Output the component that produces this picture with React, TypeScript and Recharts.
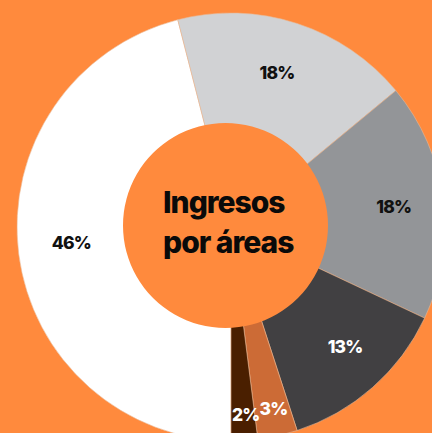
import React from "react";
import { PieChart, Pie, Cell } from "recharts";

const areas = ["A", "B", "C", "D", "E", "F"];
const shares = [46, 18, 18, 13, 3, 2];
const sliceColors = ["#FFFFFF", "#D1D2D4", "#939598", "#414042", "#CC6B36", "#4A1F00"];
const labelColors = ["#111111", "#111111", "#111111", "#FFFFFF", "#FFFFFF", "#FFFFFF"];
const labelRadii = [161, 162, 164, 165, 186, 188];
const labelShiftX = [0, -4, 0, 5, 2, 3];
const labelShiftY = [-5, 0, 0, -4, 0, 0];
const titleLines = ["Ingresos", "por áreas"];

const data = areas.map((name, i) => ({ name, value: shares[i] }));
const centerData = [{ name: "center", value: 1 }];

const ORANGE = "#FF8A3D";
const RADIAN = Math.PI / 180;
const FONT = "Inter, Lato, 'Noto Sans', sans-serif";

const renderLabel = (props: any) => {
  const { cx, cy, midAngle, index, value } = props;
  const r = labelRadii[index];
  const x = cx + r * Math.cos(-midAngle * RADIAN) + labelShiftX[index];
  const y = cy + r * Math.sin(-midAngle * RADIAN) + labelShiftY[index];
  return (
    <text
      x={x}
      y={y}
      fill={labelColors[index]}
      textAnchor="middle"
      dominantBaseline="central"
      fontFamily={FONT}
      fontWeight={800}
      fontSize={17.5}
      letterSpacing={-0.8}
    >
      {`${value}%`}
    </text>
  );
};

export default function App() {
  return (
    <div
      style={{
        position: "fixed",
        left: 0,
        top: 0,
        width: 432,
        height: 433,
        background: ORANGE,
        overflow: "hidden",
      }}
    >
      <PieChart width={432} height={433} margin={{ top: 0, right: 0, bottom: 0, left: 0 }}>
        <Pie
          data={data}
          dataKey="value"
          cx={231}
          cy={227}
          innerRadius={60}
          outerRadius={214}
          startAngle={-90}
          endAngle={-450}
          stroke="#E9B896"
          strokeWidth={0.6}
          label={renderLabel}
          labelLine={false}
          isAnimationActive={false}
        >
          {data.map((d, i) => (
            <Cell key={d.name} fill={sliceColors[i]} />
          ))}
        </Pie>
        <Pie
          data={centerData}
          dataKey="value"
          cx={225.5}
          cy={225.5}
          innerRadius={0}
          outerRadius={102.5}
          stroke="none"
          fill={ORANGE}
          isAnimationActive={false}
        />
      </PieChart>
      <svg
        width={432}
        height={433}
        style={{ position: "absolute", left: 0, top: 0, pointerEvents: "none" }}
      >
        {titleLines.map((t, i) => (
          <text
            key={t}
            x={163}
            y={213 + i * 40}
            textAnchor="start"
            fontFamily={FONT}
            fontWeight={800}
            fontSize={30}
            letterSpacing={-1}
            fill="#0A0A0A"
          >
            {t}
          </text>
        ))}
      </svg>
    </div>
  );
}
